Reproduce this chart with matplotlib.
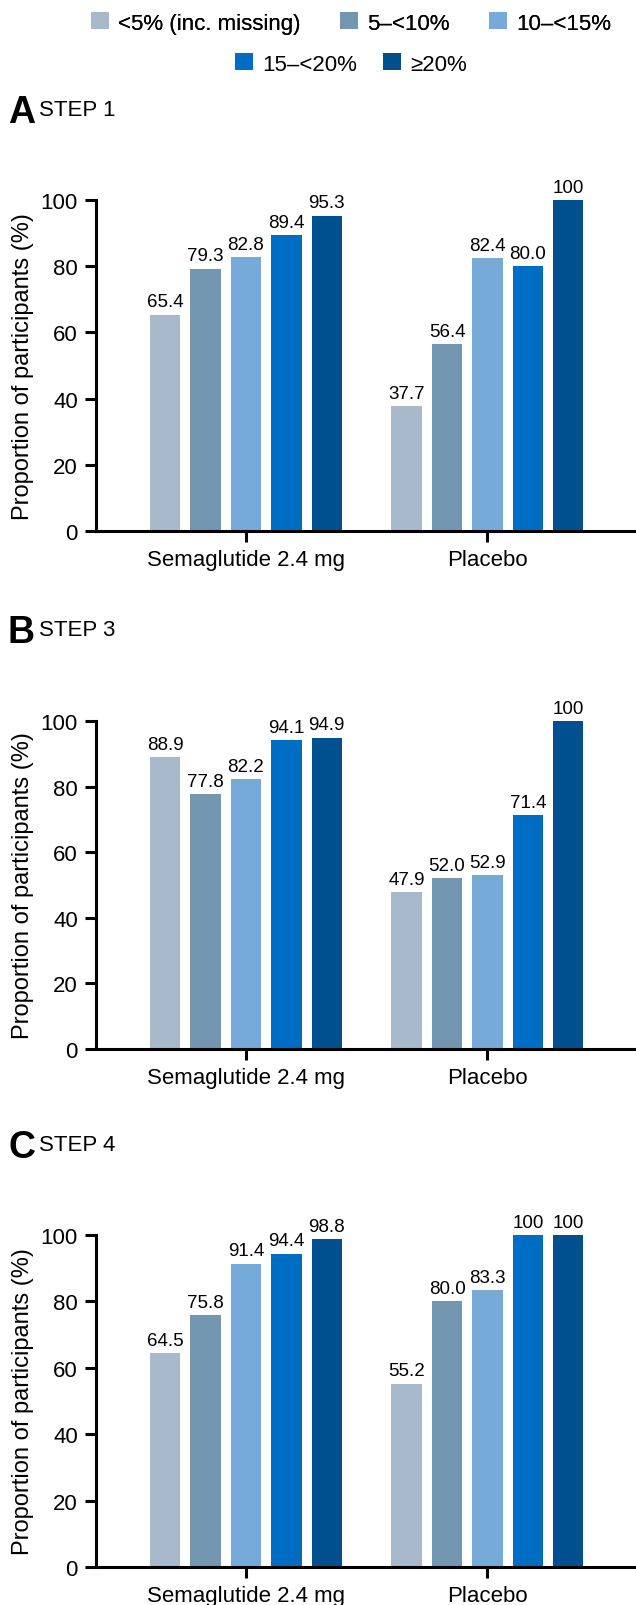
import numpy as np
import matplotlib.pyplot as plt
from matplotlib.patches import Patch

plt.rcParams['font.family'] = ['Liberation Sans', 'DejaVu Sans']

groups = ['Semaglutide 2.4 mg', 'Placebo']
categories = ['<5% (inc. missing)', '5–<10%', '10–<15%', '15–<20%', '≥20%']
colors = ['#a7b9cb', '#7397b0', '#76aad9', '#006dc4', '#00508f']

step1 = [[65.4, 79.3, 82.8, 89.4, 95.3], [37.7, 56.4, 82.4, 80.0, 100]]
step3 = [[88.9, 77.8, 82.2, 94.1, 94.9], [47.9, 52.0, 52.9, 71.4, 100]]
step4 = [[64.5, 75.8, 91.4, 94.4, 98.8], [55.2, 80.0, 83.3, 100, 100]]

panels = [('A', 'STEP 1', step1), ('B', 'STEP 3', step3), ('C', 'STEP 4', step4)]

# axes boxes in pixels (top, bottom) of a 636x1606 figure
W, H = 636, 1606
boxes = [(201, 532), (722, 1050), (1236, 1568)]
title_y = [113, 633, 1148]

fig = plt.figure(figsize=(W / 100, H / 100), dpi=100)

pitch = 0.1673
bw = 0.126
x = np.arange(len(groups))

for (letter, name, data), (top, bot), ty in zip(panels, boxes, title_y):
    ax = fig.add_axes([96 / W, 1 - bot / H, (W - 96) / W, (bot - top) / H])
    for j, cat in enumerate(categories):
        vals = [data[g][j] for g in range(len(groups))]
        pos = x + (j - 2) * pitch
        ax.bar(pos, vals, width=bw, color=colors[j], clip_on=False)
        for p, v in zip(pos, vals):
            lbl = '100' if v == 100 else f'{v:.1f}'
            ax.text(p, v + 1.3, lbl, ha='center', va='bottom', fontsize=13.5)
    ax.set_xlim(-0.621, 1.615)
    ax.set_ylim(0, 100)
    ax.set_yticks([0, 20, 40, 60, 80, 100])
    ax.set_xticks(x)
    ax.set_xticklabels(groups)
    ax.spines['top'].set_visible(False)
    ax.spines['right'].set_visible(False)
    for s in ['left', 'bottom']:
        ax.spines[s].set_linewidth(2.2)
    ax.tick_params(axis='both', width=2.2, length=8, pad=5, labelsize=16)
    ax.set_ylabel('Proportion of participants (%)', fontsize=17, labelpad=5)
    fig.text(8 / W, 1 - ty / H, letter, fontsize=27, fontweight='bold', va='center', ha='left')
    fig.text(39 / W, 1 - (ty - 2) / H, name, fontsize=16, va='center', ha='left')

handles = [Patch(facecolor=c, edgecolor='none') for c in colors]
leg1 = fig.legend(handles[:3], categories[:3], loc='center', bbox_to_anchor=(0.552, 1 - 24 / H),
                  ncol=3, frameon=False, fontsize=16, handlelength=0.8, handleheight=0.8,
                  handletextpad=0.4, columnspacing=1.8)
fig.add_artist(leg1)
fig.legend(handles[3:], categories[3:], loc='center', bbox_to_anchor=(0.552, 1 - 65 / H),
           ncol=2, frameon=False, fontsize=16, handlelength=0.8, handleheight=0.8,
           handletextpad=0.4, columnspacing=1.2)

plt.savefig('out.png', dpi=100)
